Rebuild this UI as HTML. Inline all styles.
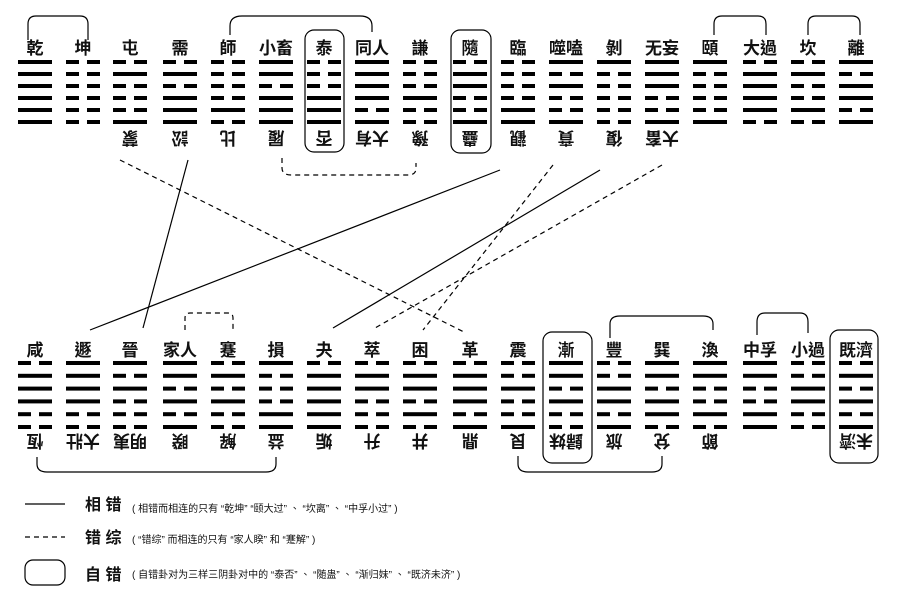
<!DOCTYPE html>
<html><head><meta charset="utf-8"><style>
html,body{margin:0;padding:0;background:#fff;}
svg{display:block;}
text{font-family:"Liberation Sans","Noto Sans CJK TC","Noto Sans CJK SC",sans-serif;fill:#111;}
.lab{font-size:17px;font-weight:bold;}
.lg{font-size:16px;font-weight:bold;}
.sm{font-size:10px;}
</style></head><body>
<svg id="s" width="897" height="593" viewBox="0 0 897 593" xmlns="http://www.w3.org/2000/svg">
<g id="bars"></g>
<g fill="none" stroke="#000" stroke-width="1.2">
<path d="M28 40 V24 Q28 16 36 16 H80 Q88 16 88 24 V40"/>
<path d="M230 35 V26 Q230 16 242 16 H360 Q372 16 372 26 V32"/>
<path d="M714 35 V24 Q714 16 722 16 H758 Q766 16 766 24 V35"/>
<path d="M808 35 V24 Q808 16 816 16 H852 Q860 16 860 24 V35"/>
<rect x="305" y="30" width="39" height="122" rx="9"/>
<rect x="451" y="30" width="40" height="123" rx="9"/>
<rect x="543" y="332" width="49" height="131" rx="9"/>
<rect x="830" y="330" width="48" height="133" rx="9"/>
<path d="M610 338 V324 Q610 316 620 316 H703 Q713 316 713 324 V330"/>
<path d="M757 335 V322 Q757 313 765 313 H800 Q808 313 808 322 V333"/>
<path d="M37 457 V464 Q37 472 47 472 H266 Q276 472 276 464 V457"/>
<path d="M518 456 V464 Q518 472 528 472 H652 Q662 472 662 464 V456"/>
<line x1="188" y1="160" x2="143" y2="328"/>
<line x1="500" y1="170" x2="90" y2="330"/>
<line x1="600" y1="170" x2="333" y2="328"/>
<line x1="25" y1="504" x2="65" y2="504"/>
<rect x="25" y="560" width="40" height="25" rx="8"/>
</g>
<g fill="none" stroke="#000" stroke-width="1.2" stroke-dasharray="5,4">
<path d="M282 158 V168 Q282 175 292 175 H408 Q416 175 416 168 V163"/>
<path d="M185 330 V318 Q185 313 190 313 H228 Q233 313 233 318 V330"/>
<line x1="120" y1="160" x2="464" y2="332"/>
<line x1="553" y1="165" x2="423" y2="330"/>
<line x1="662" y1="165" x2="375" y2="328"/>
<line x1="25" y1="537" x2="65" y2="537"/>
</g>
<g class="lab" text-anchor="middle">
<text x="35" y="54">乾</text><text x="83" y="54">坤</text><text x="130" y="54">屯</text><text x="180" y="54">需</text>
<text x="228" y="54">師</text><text x="276" y="54">小畜</text><text x="324" y="54">泰</text><text x="372" y="54">同人</text>
<text x="420" y="54">謙</text><text x="470" y="54">隨</text><text x="518" y="54">臨</text><text x="566" y="54">噬嗑</text>
<text x="614" y="54">剝</text><text x="662" y="54">无妄</text><text x="710" y="54">頤</text><text x="760" y="54">大過</text>
<text x="808" y="54">坎</text><text x="856" y="54">離</text>
<text x="35" y="356">咸</text><text x="83" y="356">遯</text><text x="130" y="356">晉</text><text x="180" y="356">家人</text>
<text x="228" y="356">蹇</text><text x="276" y="356">損</text><text x="324" y="356">夬</text><text x="372" y="356">萃</text>
<text x="420" y="356">困</text><text x="470" y="356">革</text><text x="518" y="356">震</text><text x="566" y="356">漸</text>
<text x="614" y="356">豐</text><text x="662" y="356">巽</text><text x="710" y="356">渙</text><text x="760" y="356">中孚</text>
<text x="808" y="356">小過</text><text x="856" y="356">既濟</text>
</g>
<g class="lab" text-anchor="middle">
<text transform="rotate(180 130 138)" x="130" y="144">蒙</text>
<text transform="rotate(180 180 138)" x="180" y="144">訟</text>
<text transform="rotate(180 228 138)" x="228" y="144">比</text>
<text transform="rotate(180 276 138)" x="276" y="144">履</text>
<text transform="rotate(180 324 138)" x="324" y="144">否</text>
<text transform="rotate(180 372 138)" x="372" y="144">大有</text>
<text transform="rotate(180 420 138)" x="420" y="144">豫</text>
<text transform="rotate(180 470 138)" x="470" y="144">蠱</text>
<text transform="rotate(180 518 138)" x="518" y="144">觀</text>
<text transform="rotate(180 566 138)" x="566" y="144">賁</text>
<text transform="rotate(180 614 138)" x="614" y="144">復</text>
<text transform="rotate(180 662 138)" x="662" y="144">大畜</text>
<text transform="rotate(180 35 441)" x="35" y="447">恆</text>
<text transform="rotate(180 83 441)" x="83" y="447">大壯</text>
<text transform="rotate(180 130 441)" x="130" y="447">明夷</text>
<text transform="rotate(180 180 441)" x="180" y="447">睽</text>
<text transform="rotate(180 228 441)" x="228" y="447">解</text>
<text transform="rotate(180 276 441)" x="276" y="447">益</text>
<text transform="rotate(180 324 441)" x="324" y="447">姤</text>
<text transform="rotate(180 372 441)" x="372" y="447">升</text>
<text transform="rotate(180 420 441)" x="420" y="447">井</text>
<text transform="rotate(180 470 441)" x="470" y="447">鼎</text>
<text transform="rotate(180 518 441)" x="518" y="447">艮</text>
<text transform="rotate(180 566 441)" x="566" y="447">歸妹</text>
<text transform="rotate(180 614 441)" x="614" y="447">旅</text>
<text transform="rotate(180 662 441)" x="662" y="447">兌</text>
<text transform="rotate(180 710 441)" x="710" y="447">節</text>
<text transform="rotate(180 856 441)" x="856" y="447">未濟</text>
</g>
<text class="lg" x="85" y="510">相 错</text>
<text class="sm" x="132" y="512">( 相错而相连的只有 “乾坤” “颐大过” 、 “坎离” 、 “中孚小过” )</text>
<text class="lg" x="85" y="543">错 综</text>
<text class="sm" x="132" y="543">( “错综” 而相连的只有 “家人睽” 和 “蹇解” )</text>
<text class="lg" x="85" y="580">自 错</text>
<text class="sm" x="132" y="578">( 自错卦对为三样三阴卦对中的 “泰否” 、 “随蛊” 、 “渐归妹” 、 “既济未济” )</text>
</svg>
<script>
(function(){
var T=["111111","000000","010001","010111","000010","110111","000111","111101","000100","011001","000011","101001","100000","111001","100001","011110","010010","101101"];
var B=["011100","111100","101000","110101","010100","100011","011111","011000","011010","011101","001001","110100","001101","110110","110010","110011","001100","010101"];
var xs=[35,83,130,180,228,276,324,372,420,470,518,566,614,662,710,760,808,856];
var g=document.getElementById("bars"),h="";
function hex(p,cx,y0,dy){for(var i=0;i<6;i++){var y=y0+i*dy;
 if(p[i]=="1")h+='<rect x="'+(cx-17)+'" y="'+(y-2)+'" width="34" height="4"/>';
 else h+='<rect x="'+(cx-17)+'" y="'+(y-2)+'" width="13" height="4"/><rect x="'+(cx+4)+'" y="'+(y-2)+'" width="13" height="4"/>';}}
for(var i=0;i<18;i++){hex(T[i],xs[i],62,12);hex(B[i],xs[i],363,12.8);}
g.innerHTML=h;
})();
</script>
</body></html>
